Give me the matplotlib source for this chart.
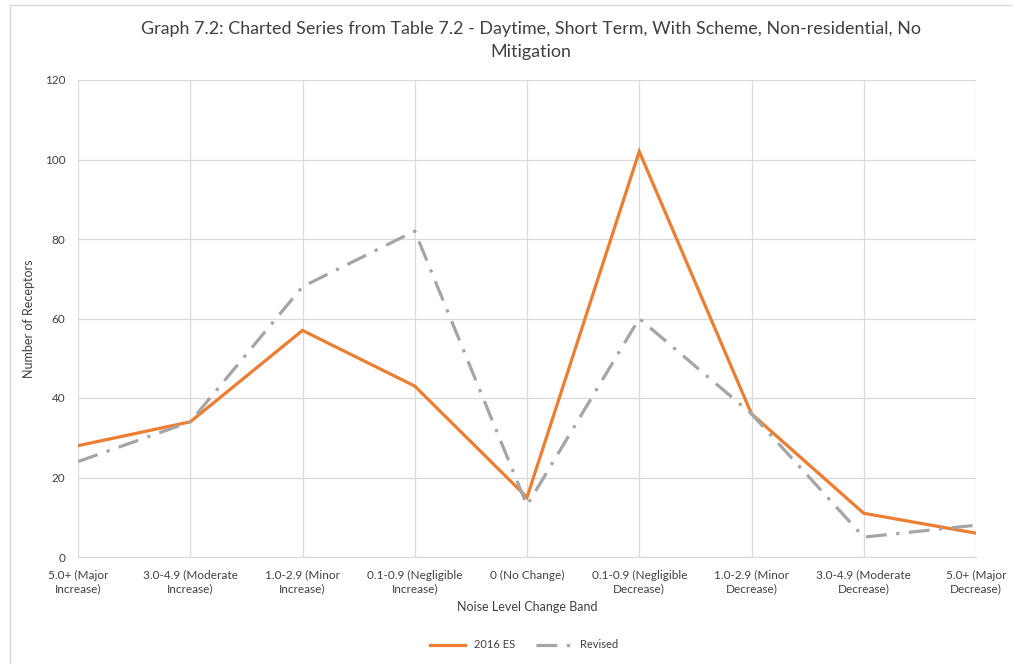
import matplotlib
matplotlib.use("Agg")
import matplotlib.pyplot as plt
from matplotlib.patches import Rectangle

categories = [
    "5.0+ (Major\nIncrease)",
    "3.0-4.9 (Moderate\nIncrease)",
    "1.0-2.9 (Minor\nIncrease)",
    "0.1-0.9 (Negligible\nIncrease)",
    "0 (No Change)",
    "0.1-0.9 (Negligible\nDecrease)",
    "1.0-2.9 (Minor\nDecrease)",
    "3.0-4.9 (Moderate\nDecrease)",
    "5.0+ (Major\nDecrease)",
]
es2016 = [28, 34, 57, 43, 15, 102, 36, 11, 6]
revised = [24, 34, 68, 82, 13, 60, 36, 5, 8]
yticks = [0, 20, 40, 60, 80, 100, 120]

plt.rcParams['font.family'] = ['Lato', 'DejaVu Sans']

W, H = 1013, 664
fig = plt.figure(figsize=(W / 100, H / 100), dpi=100)
fig.patch.set_facecolor("white")

# chart outer border
fig.add_artist(Rectangle((10 / W, -0.1), 1.2, 1 - 5 / H + 0.1, transform=fig.transFigure,
                         fill=False, edgecolor="#D9D9D9", linewidth=1.0))

left, right, top, bottom = 78, 976, 80, 557
ax = fig.add_axes([left / W, 1 - bottom / H, (right - left) / W, (bottom - top) / H])

x = list(range(len(categories)))
ax.plot(x, es2016, color="#ED7D31", linewidth=2.3, label="2016 ES", solid_joinstyle="miter", zorder=3)
ax.plot(x, revised, color="#A5A5A5", linewidth=2.3, label="Revised",
        linestyle=(0, (6.5, 3.0, 1.0, 3.0)), zorder=4)

ax.set_xlim(0, len(categories) - 1)
ax.set_ylim(0, 120)
ax.set_yticks(yticks)
ax.set_xticks(x)
ax.set_xticklabels(categories, fontsize=8.5, color="#404040", linespacing=1.3)
ax.tick_params(axis="y", labelsize=8.5, labelcolor="#404040", length=0, pad=9)
ax.tick_params(axis="x", length=0, pad=9)
ax.grid(True, color="#D9D9D9", linewidth=0.9)
ax.set_axisbelow(True)
for s in ["top", "right", "left"]:
    ax.spines[s].set_visible(False)
ax.spines["bottom"].set_color("#D9D9D9")
ax.spines["bottom"].set_linewidth(0.9)

ax.set_xlabel("Noise Level Change Band", fontsize=9, color="#404040", labelpad=5)
ax.set_ylabel("Number of Receptors", fontsize=9, color="#404040")
ax.yaxis.set_label_coords((35 - left) / (right - left), 0.5)

fig.text(531 / W, 1 - 29 / H,
         "Graph 7.2: Charted Series from Table 7.2 - Daytime, Short Term, With Scheme, Non-residential, No",
         ha="center", va="center", fontsize=12.9, color="#404040")
fig.text(531 / W, 1 - 52 / H, "Mitigation", ha="center", va="center", fontsize=12.9, color="#404040")

fig.legend(loc="center", bbox_to_anchor=(524 / W, 1 - 645 / H), ncol=2, frameon=False,
           fontsize=8, handlelength=3.2, columnspacing=1.8, labelcolor="#404040")

fig.savefig("out.png", dpi=100, facecolor="white")
